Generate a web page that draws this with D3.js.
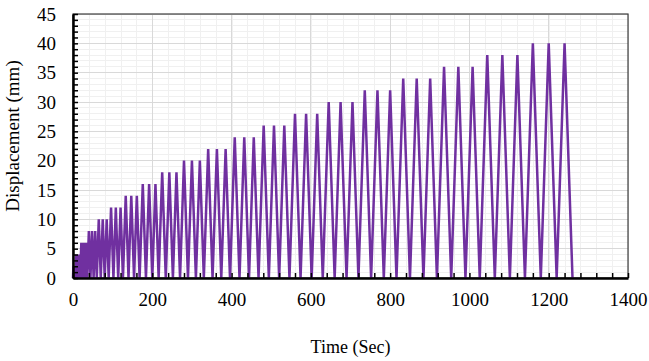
<!DOCTYPE html>
<meta charset="utf-8">
<style>
body { margin: 0; background: #fff; }
text { font-family: "Liberation Serif", "Times New Roman", serif; fill: #000; }
.grid-minor line { stroke: #f0f0f0; stroke-width: 1; shape-rendering: crispEdges; }
.grid-major line { stroke: #d9d9d9; stroke-width: 1; shape-rendering: crispEdges; }
.line { fill: none; stroke: #7030a0; stroke-width: 2.5px; stroke-linejoin: miter; }
</style>
<body>
<div id="plotHere"></div>
<script src="https://cdn.jsdelivr.net/npm/d3@7"></script>
<script>
//------------------------ DATA ------------------------//
// vertices of the loading history (peak / zero points)
const timeSec = [
  0, 1, 2, 3, 4, 5, 6,
  8, 10, 12, 14, 16, 18,
  21, 24, 27, 30, 33, 36,
  40, 44, 48, 52, 56, 60,
  65, 70, 75, 80, 85, 90,
  96, 102, 108, 114, 120, 126,
  133, 140, 147, 154, 161, 168,
  176, 184, 192, 200, 208, 216,
  225, 234, 243, 252, 261, 270,
  280, 290, 300, 310, 320, 330,
  341, 352, 363, 374, 385, 396,
  408, 420, 432, 444, 456, 468,
  481, 494, 507, 520, 533, 546,
  560, 574, 588, 602, 616, 630,
  645, 660, 675, 690, 705, 720,
  736, 752, 768, 784, 800, 816,
  833, 850, 867, 884, 901, 918,
  936, 954, 972, 990, 1008, 1026,
  1045, 1064, 1083, 1102, 1121, 1140,
  1160, 1180, 1200, 1220, 1240, 1260
];
const dispMm = [
  0, 2, 0, 2, 0, 2, 0,
  4, 0, 4, 0, 4, 0,
  6, 0, 6, 0, 6, 0,
  8, 0, 8, 0, 8, 0,
  10, 0, 10, 0, 10, 0,
  12, 0, 12, 0, 12, 0,
  14, 0, 14, 0, 14, 0,
  16, 0, 16, 0, 16, 0,
  18, 0, 18, 0, 18, 0,
  20, 0, 20, 0, 20, 0,
  22, 0, 22, 0, 22, 0,
  24, 0, 24, 0, 24, 0,
  26, 0, 26, 0, 26, 0,
  28, 0, 28, 0, 28, 0,
  30, 0, 30, 0, 30, 0,
  32, 0, 32, 0, 32, 0,
  34, 0, 34, 0, 34, 0,
  36, 0, 36, 0, 36, 0,
  38, 0, 38, 0, 38, 0,
  40, 0, 40, 0, 40, 0
];
const xTicks = [0, 200, 400, 600, 800, 1000, 1200, 1400];
const yTicks = [0, 5, 10, 15, 20, 25, 30, 35, 40, 45];

const xlabel = "Time (Sec)";
const ylabel = "Displacement (mm)";
const serif = "'Liberation Serif', 'Times New Roman', serif";

//------------------------ SVG ------------------------//
var margin = {top: 14, right: 21, bottom: 83, left: 73},
    width = 649 - margin.left - margin.right,
    height = 361 - margin.top - margin.bottom;

var svg = d3.select("#plotHere").append("svg")
    .attr("width", 649)
    .attr("height", 361)
  .append("g")
    .attr("transform", "translate(" + margin.left + "," + margin.top + ")");

var x = d3.scaleLinear().domain([0, 1400]).range([0, width]);
var y = d3.scaleLinear().domain([0, 45]).range([height, 0]);

//------------------------ GRID ------------------------//
svg.append("g").attr("class", "grid-minor")
  .selectAll("line").data(d3.range(0, 1401, 40)).join("line")
    .attr("x1", d => Math.round(x(d)) + 0.5).attr("x2", d => Math.round(x(d)) + 0.5)
    .attr("y1", 0).attr("y2", height);
svg.append("g").attr("class", "grid-minor")
  .selectAll("line").data(d3.range(0, 46, 1)).join("line")
    .attr("y1", d => y(d)).attr("y2", d => y(d))
    .attr("x1", 0).attr("x2", width);
svg.append("g").attr("class", "grid-major")
  .selectAll("line").data(xTicks).join("line")
    .attr("x1", d => x(d)).attr("x2", d => x(d))
    .attr("y1", 0).attr("y2", height);
svg.append("g").attr("class", "grid-major")
  .selectAll("line").data(yTicks).join("line")
    .attr("y1", d => y(d)).attr("y2", d => y(d))
    .attr("x1", 0).attr("x2", width);

//------------------------ FRAME ------------------------//
svg.append("rect")
    .attr("x", 0).attr("y", 0).attr("width", width).attr("height", height)
    .attr("fill", "none").attr("stroke", "#404040").attr("stroke-width", 1.2);

//------------------------ LINE ------------------------//
var points = timeSec.map((t, i) => ({t: t, d: dispMm[i]}));
var valueline = d3.line().x(d => x(d.t)).y(d => y(d.d));
svg.append("path").datum(points).attr("class", "line").attr("d", valueline);

//------------------------ AXES ------------------------//
// minor inward ticks
svg.append("g")
    .attr("transform", "translate(0," + height + ")")
    .call(d3.axisBottom(x).tickValues(d3.range(0, 1401, 40)).tickSize(-5).tickFormat(""))
    .call(g => g.select(".domain").remove())
    .call(g => g.selectAll("line").attr("stroke", "#000").attr("stroke-width", 1.5));
svg.append("g")
    .call(d3.axisLeft(y).tickValues(d3.range(0, 46, 1)).tickSize(-5).tickFormat(""))
    .call(g => g.select(".domain").remove())
    .call(g => g.selectAll("line").attr("stroke", "#000").attr("stroke-width", 1.5));

// labelled axes
svg.append("g")
    .attr("transform", "translate(0," + height + ")")
    .attr("font-family", serif)
    .call(d3.axisBottom(x).tickValues(xTicks).tickSize(0).tickPadding(15).tickFormat(d3.format("d")))
    .call(g => g.select(".domain").attr("stroke", "#000").attr("stroke-width", 2.5))
    .call(g => g.selectAll("text").style("font-size", "19px").style("font-family", serif));
svg.append("g")
    .attr("font-family", serif)
    .call(d3.axisLeft(y).tickValues(yTicks).tickSize(0).tickPadding(17).tickFormat(d3.format("d")))
    .call(g => g.select(".domain").attr("stroke", "#000").attr("stroke-width", 2.5))
    .call(g => g.selectAll("text").style("font-size", "19px").style("font-family", serif));

svg.append("text")
    .attr("x", width / 2)
    .attr("y", height + 75)
    .style("font-size", "18px")
    .style("text-anchor", "middle")
    .text(xlabel);

svg.append("text")
    .attr("transform", "rotate(-90)")
    .attr("x", -122)
    .attr("y", -54)
    .style("font-size", "19px")
    .style("text-anchor", "middle")
    .text(ylabel);
</script>
</body>
